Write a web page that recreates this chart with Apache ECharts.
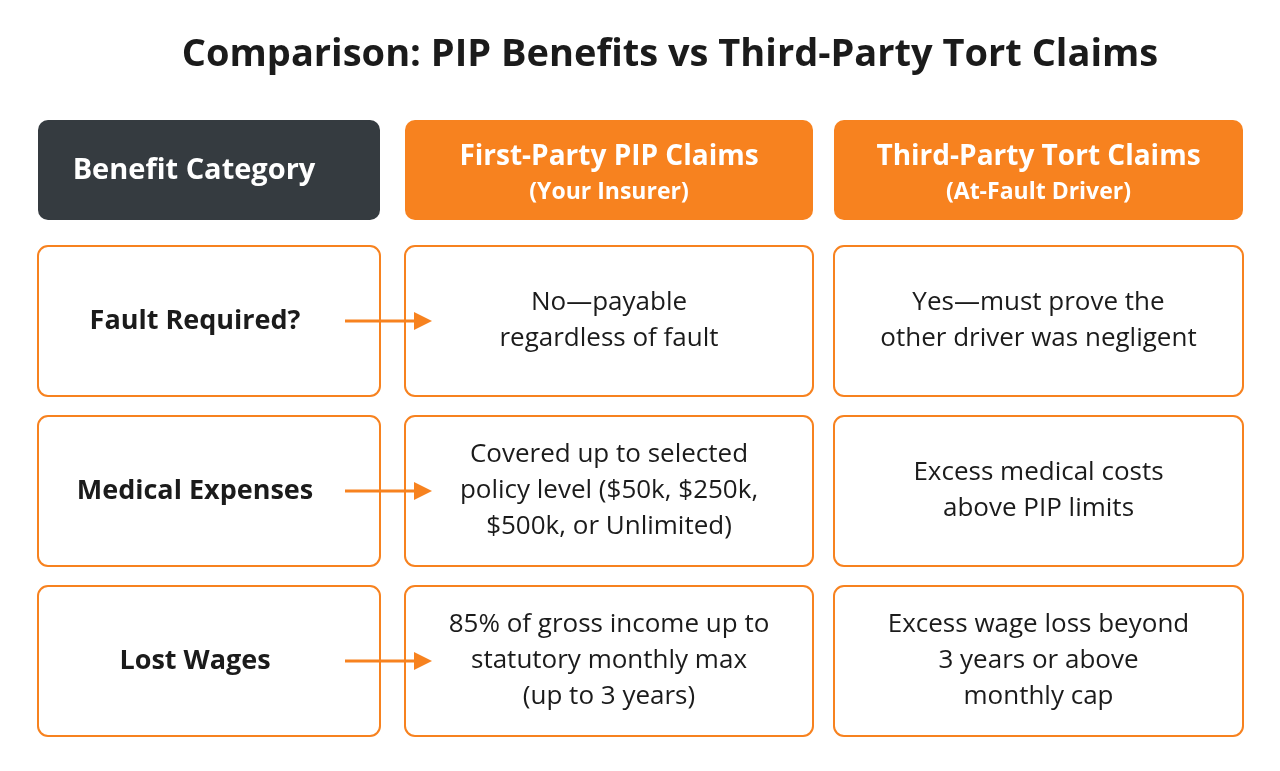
<!DOCTYPE html>
<html><head><meta charset="utf-8">
<script src="https://cdn.jsdelivr.net/npm/echarts@6/dist/echarts.min.js"></script>
<style>html,body{margin:0;padding:0;background:#fff}#c{width:1280px;height:771px}</style>
</head><body><div id="c"></div>
<script>
const title = "Comparison: PIP Benefits vs Third-Party Tort Claims";
const headers = ["Benefit Category", "First-Party PIP Claims\n(Your Insurer)", "Third-Party Tort Claims\n(At-Fault Driver)"];
const rowLabels = ["Fault Required?", "Medical Expenses", "Lost Wages"];
const pipText = ["No\u2014payable\nregardless of fault", "Covered up to selected\npolicy level ($50k, $250k,\n$500k, or Unlimited)", "85% of gross income up to\nstatutory monthly max\n(up to 3 years)"];
const tortText = ["Yes\u2014must prove the\nother driver was negligent", "Excess medical costs\nabove PIP limits", "Excess wage loss beyond\n3 years or above\nmonthly cap"];

const ORANGE = "#f7821f", DARK = "#353b40";
const cols = [[38, 342], [405, 408], [834, 409]];
const rowsY = [246, 416, 586], rowH = 150;
const g = [];
g.push({type:'text', style:{text:title, x:670, y:55, align:'center', verticalAlign:'middle', font:'bold 38px "Open Sans", "DejaVu Sans", sans-serif', fill:'#1b1b1b'}});
headers.forEach((h, i) => {
  const [x, w] = cols[i];
  g.push({type:'rect', shape:{x, y:120, width:w, height:100, r:10}, style:{fill: i===0?DARK:ORANGE}});
  const lines = h.split("\n");
  if (lines.length === 1) {
    g.push({type:'text', style:{text:lines[0], x:x+w/2-15*(i===0?1:0), y:171, align:'center', verticalAlign:'middle', font:'bold 29px "Open Sans", sans-serif', fill:'#fff'}});
  } else {
    g.push({type:'text', style:{text:lines[0], x:x+w/2, y:157, align:'center', verticalAlign:'middle', font:'bold 28px "Open Sans", sans-serif', fill:'#fff'}});
    g.push({type:'text', style:{text:lines[1], x:x+w/2, y:192, align:'center', verticalAlign:'middle', font:'bold 23px "Open Sans", sans-serif', fill:'#fff'}});
  }
});
rowLabels.forEach((lab, r) => {
  const y = rowsY[r], cy = y + rowH/2;
  const texts = [lab, pipText[r], tortText[r]];
  cols.forEach(([x, w], i) => {
    g.push({type:'rect', shape:{x, y, width:w, height:rowH, r:10}, style:{fill:'#fff', stroke:ORANGE, lineWidth:2}});
    g.push({type:'text', style:{text:texts[i], x: i===0 ? 195 : x+w/2, y:cy, align:'center', verticalAlign:'middle',
      font: i===0 ? 'bold 27px "Open Sans", sans-serif' : '26px "Open Sans", sans-serif', lineHeight:36, fill:'#1b1b1b'}});
  });
  g.push({type:'line', shape:{x1:345, y1:cy, x2:418, y2:cy}, style:{stroke:ORANGE, lineWidth:3}});
  g.push({type:'polygon', shape:{points:[[432,cy],[414,cy-9],[414,cy+9]]}, style:{fill:ORANGE}});
});
const chart = echarts.init(document.getElementById('c'));
chart.setOption({backgroundColor:'#fff', graphic:g});
</script></body></html>
